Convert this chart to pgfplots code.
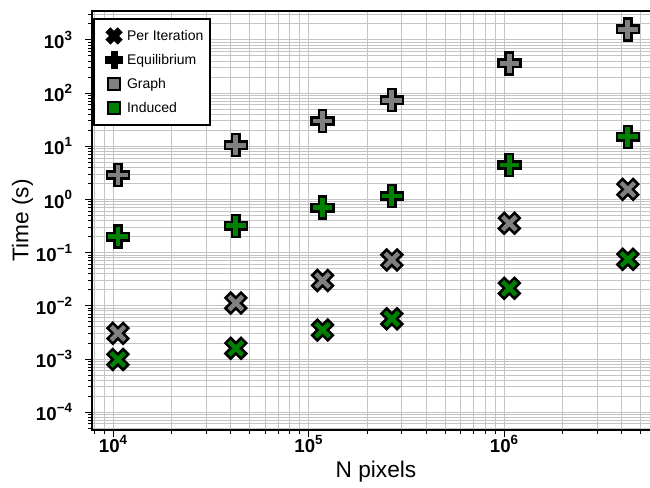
\documentclass[border=0pt]{standalone}
\usepackage{fontspec}
\setmainfont{Liberation Sans}
\usepackage{pgfplots}
\pgfplotsset{compat=1.18}
\definecolor{mgray}{HTML}{808080}
\definecolor{mgreen}{HTML}{008000}
\definecolor{gridc}{HTML}{C4C4C4}

\pgfdeclareplotmark{Pfill}{%
  \pgfpathmoveto{\pgfqpoint{-0.3333\pgfplotmarksize}{-\pgfplotmarksize}}%
  \pgfpathlineto{\pgfqpoint{0.3333\pgfplotmarksize}{-\pgfplotmarksize}}%
  \pgfpathlineto{\pgfqpoint{0.3333\pgfplotmarksize}{-0.3333\pgfplotmarksize}}%
  \pgfpathlineto{\pgfqpoint{\pgfplotmarksize}{-0.3333\pgfplotmarksize}}%
  \pgfpathlineto{\pgfqpoint{\pgfplotmarksize}{0.3333\pgfplotmarksize}}%
  \pgfpathlineto{\pgfqpoint{0.3333\pgfplotmarksize}{0.3333\pgfplotmarksize}}%
  \pgfpathlineto{\pgfqpoint{0.3333\pgfplotmarksize}{\pgfplotmarksize}}%
  \pgfpathlineto{\pgfqpoint{-0.3333\pgfplotmarksize}{\pgfplotmarksize}}%
  \pgfpathlineto{\pgfqpoint{-0.3333\pgfplotmarksize}{0.3333\pgfplotmarksize}}%
  \pgfpathlineto{\pgfqpoint{-\pgfplotmarksize}{0.3333\pgfplotmarksize}}%
  \pgfpathlineto{\pgfqpoint{-\pgfplotmarksize}{-0.3333\pgfplotmarksize}}%
  \pgfpathlineto{\pgfqpoint{-0.3333\pgfplotmarksize}{-0.3333\pgfplotmarksize}}%
  \pgfpathclose
  \pgfusepathqfillstroke}

\pgfdeclareplotmark{Xfill}{%
  \pgfpathmoveto{\pgfqpoint{0.4714\pgfplotmarksize}{-0.9428\pgfplotmarksize}}%
  \pgfpathlineto{\pgfqpoint{0.9428\pgfplotmarksize}{-0.4714\pgfplotmarksize}}%
  \pgfpathlineto{\pgfqpoint{0.4714\pgfplotmarksize}{0pt}}%
  \pgfpathlineto{\pgfqpoint{0.9428\pgfplotmarksize}{0.4714\pgfplotmarksize}}%
  \pgfpathlineto{\pgfqpoint{0.4714\pgfplotmarksize}{0.9428\pgfplotmarksize}}%
  \pgfpathlineto{\pgfqpoint{0pt}{0.4714\pgfplotmarksize}}%
  \pgfpathlineto{\pgfqpoint{-0.4714\pgfplotmarksize}{0.9428\pgfplotmarksize}}%
  \pgfpathlineto{\pgfqpoint{-0.9428\pgfplotmarksize}{0.4714\pgfplotmarksize}}%
  \pgfpathlineto{\pgfqpoint{-0.4714\pgfplotmarksize}{0pt}}%
  \pgfpathlineto{\pgfqpoint{-0.9428\pgfplotmarksize}{-0.4714\pgfplotmarksize}}%
  \pgfpathlineto{\pgfqpoint{-0.4714\pgfplotmarksize}{-0.9428\pgfplotmarksize}}%
  \pgfpathlineto{\pgfqpoint{0pt}{-0.4714\pgfplotmarksize}}%
  \pgfpathclose
  \pgfusepathqfillstroke}

\newcommand{\ex}[1]{\bfseries 10\raisebox{6.2pt}{\fontsize{10}{10}\selectfont\bfseries #1}}

\pgfplotstableread{
x        geq    ieq    gpi      ipi
10600    2.9    0.20   0.00304  0.00098
42500    10.5   0.32   0.0113   0.00159
118000   30     0.70   0.030    0.0035
267000   74     1.16   0.073    0.0057
1065000  363    4.45   0.357    0.0214
4300000  1585   15.1   1.55     0.075
}\datatab

\begin{document}
\begin{tikzpicture}
\begin{axis}[name=ax,
  xmode=log, ymode=log,
  scale only axis, width=426pt, height=314.25pt,
  xmin=7810, xmax=6.28e6, ymin=4.62e-5, ymax=3508,
  xtick={1e4,1e5,1e6},
  xticklabels={\ex{4},\ex{5},\ex{6}},
  ytick={1e-4,1e-3,1e-2,1e-1,1,10,100,1000},
  yticklabels={\ex{−4},\ex{−3},\ex{−2},\ex{−1},\ex{0},\ex{1},\ex{2},\ex{3}},
  minor xtick={8000,9000,20000,30000,40000,50000,60000,70000,80000,90000,200000,300000,400000,500000,600000,700000,800000,900000,2000000,3000000,4000000,5000000,6000000},
  minor ytick={5e-5,6e-5,7e-5,8e-5,9e-5,2e-4,3e-4,4e-4,5e-4,6e-4,7e-4,8e-4,9e-4,2e-3,3e-3,4e-3,5e-3,6e-3,7e-3,8e-3,9e-3,2e-2,3e-2,4e-2,5e-2,6e-2,7e-2,8e-2,9e-2,0.2,0.3,0.4,0.5,0.6,0.7,0.8,0.9,2,3,4,5,6,7,8,9,20,30,40,50,60,70,80,90,200,300,400,500,600,700,800,900,2000,3000},
  grid=both,
  major grid style={draw=gridc, line width=0.75pt},
  minor grid style={draw=gridc, line width=0.75pt},
  tick align=outside, xtick pos=left, ytick pos=left,
  major tick length=5pt, minor tick length=3pt,
  every tick/.style={black, line width=0.75pt},
  axis line style={line width=1pt},
  tick label style={font=\fontsize{14}{16}\selectfont\bfseries},
  yticklabel style={xshift=-6.5pt},
  xticklabel style={yshift=4.5pt},
  xlabel={N pixels}, ylabel={Time (s)},
  label style={font=\fontsize{17}{20}\selectfont},
  xlabel style={at={(axis description cs:0.5,-0.0985)}, anchor=center},
  ylabel style={at={(axis description cs:-0.1224,0.5)}, anchor=center},
  legend image code/.code={\path[draw=none, fill=none] (0pt,-9pt) rectangle (19.5pt,9pt); \draw[#1, only marks] plot coordinates {(11.75pt,0pt)};},
  legend style={at={(axis description cs:0.0025,0.9826)}, anchor=north west,
    draw=black, line width=1.5pt, fill=white,
    font=\fontsize{10.5}{12}\selectfont,
    row sep=0pt, inner xsep=3pt, inner ysep=3.5pt,
    cells={anchor=west}},
  legend entries={Per Iteration, Equilibrium, Graph, Induced},
]
\addlegendimage{mark=Xfill, mark size=5.8pt, mark options={fill=black, draw=black, line width=1.5pt, line join=miter}}
\addlegendimage{mark=Pfill, mark size=5.8pt, mark options={fill=black, draw=black, line width=1.5pt, line join=miter}}
\addlegendimage{mark=square*, mark size=4.2pt, mark options={fill=mgray, draw=black, line width=1.5pt}}
\addlegendimage{mark=square*, mark size=4.2pt, mark options={fill=mgreen, draw=black, line width=1.5pt}}

\addplot[only marks, mark=Pfill, mark size=8.25pt, mark options={fill=mgray, draw=black, line width=1.9pt, line join=miter}] table[x=x, y=geq] {\datatab};
\addplot[only marks, mark=Pfill, mark size=8.25pt, mark options={fill=mgreen, draw=black, line width=1.9pt, line join=miter}] table[x=x, y=ieq] {\datatab};
\addplot[only marks, mark=Xfill, mark size=8.25pt, mark options={fill=mgray, draw=black, line width=1.9pt, line join=miter}] table[x=x, y=gpi] {\datatab};
\addplot[only marks, mark=Xfill, mark size=8.25pt, mark options={fill=mgreen, draw=black, line width=1.9pt, line join=miter}] table[x=x, y=ipi] {\datatab};
\end{axis}
\pgfresetboundingbox
\useasboundingbox ([xshift=-69pt,yshift=-42.75pt]ax.south west) rectangle ([xshift=418.5pt,yshift=8.25pt]ax.north west);
\end{tikzpicture}
\end{document}
